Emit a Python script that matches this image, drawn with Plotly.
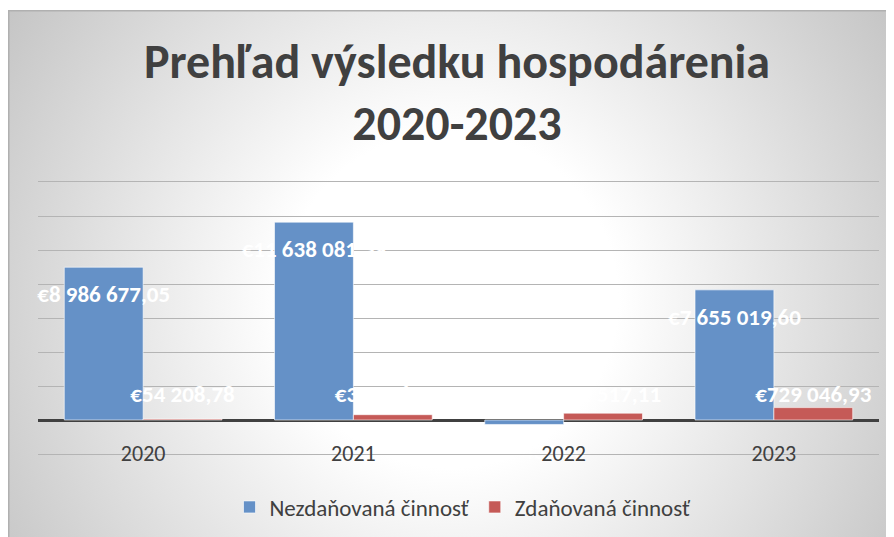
import base64
import plotly.graph_objects as go

# ---- data ----
years = ["2020", "2021", "2022", "2023"]
nezdanovana = [8986677.05, 11638081.39, -262430.00, 7655019.60]   # Nezdaňovaná činnosť
zdanovana = [54208.78, 312460.00, 401517.11, 729046.93]           # Zdaňovaná činnosť
series_names = ["Nezdaňovaná činnosť", "Zdaňovaná činnosť"]
title_text = "Prehľad výsledku hospodárenia<br>2020-2023"

# ---- style ----
W, H = 894, 537
L, R, T, B = 30, 23, 174, 91
PW, PH = W - L - R, H - T - B
FONT = "Calibri, Carlito, Lato, sans-serif"
BLUE = "#6591c7"
RED = "#c55a57"
TXT = "#404040"
GRID = "#b4b4b4"
BARGAP = 0.25
Y_MIN, Y_MAX, Y_STEP = -2e6, 14e6, 2e6
UNITS_PER_PX = (Y_MAX - Y_MIN) / PH


def eur(v):
    s = f"{abs(v):,.2f}".replace(",", " ").replace(".", ",")
    return ("-" if v < 0 else "") + "€" + s


def px_x(px):  # figure pixel -> paper x
    return (px - L) / PW


def px_y(py):  # figure pixel (from top) -> paper y
    return (H - B - py) / PH


xs = list(range(len(years)))
half = (1 - BARGAP) / 4

# background: radial gradient chart area (svg data uri)
svg = f'''<svg xmlns="http://www.w3.org/2000/svg" width="{W}" height="{H}" viewBox="0 0 {W} {H}">
<defs><radialGradient id="g" gradientUnits="userSpaceOnUse" cx="442" cy="292" r="560">
<stop offset="0" stop-color="#ffffff"/><stop offset="0.3" stop-color="#ffffff"/>
<stop offset="1" stop-color="#c0c0c0"/></radialGradient></defs>
<rect x="0" y="0" width="{W}" height="{H}" fill="#ffffff"/>
<rect x="0.75" y="2.75" width="{W+20}" height="{H+20}" fill="url(#g)" stroke="#b0b0b0" stroke-width="1.5"/>
</svg>'''
bg_uri = "data:image/svg+xml;base64," + base64.b64encode(svg.encode("utf-8")).decode()

fig = go.Figure()
fig.add_trace(go.Bar(x=xs, y=nezdanovana, name=series_names[0], marker_color=BLUE,
                     marker_line=dict(color="rgba(255,255,255,0.6)", width=1)))
fig.add_trace(go.Bar(x=xs, y=zdanovana, name=series_names[1], marker_color=RED,
                     marker_line=dict(color="rgba(255,255,255,0.6)", width=1)))

# data labels (white, bold)
fig.add_trace(go.Scatter(
    x=[x - half for x in xs],
    y=[v - 29 * UNITS_PER_PX for v in nezdanovana],
    text=[eur(v) for v in nezdanovana], mode="text", textposition="middle center",
    textfont=dict(family=FONT, size=23, color="white", weight="bold"),
    showlegend=False, hoverinfo="skip", cliponaxis=False))
fig.add_trace(go.Scatter(
    x=[x + half for x in xs],
    y=[24 * UNITS_PER_PX for _ in zdanovana],
    text=[eur(v) for v in zdanovana], mode="text", textposition="middle center",
    textfont=dict(family=FONT, size=23, color="white", weight="bold"),
    showlegend=False, hoverinfo="skip", cliponaxis=False))

fig.update_layout(
    width=W, height=H, autosize=False,
    margin=dict(l=L, r=R, t=T, b=B),
    paper_bgcolor="white", plot_bgcolor="rgba(0,0,0,0)",
    barmode="group", bargap=BARGAP, bargroupgap=0,
    font=dict(family=FONT, color=TXT),
    legend=dict(orientation="h", x=px_x(455), xanchor="center",
                y=px_y(499), yanchor="middle", itemwidth=30,
                font=dict(family=FONT, size=23, color=TXT),
                bgcolor="rgba(0,0,0,0)", itemclick=False),
    annotations=[dict(text=title_text, xref="paper", yref="paper",
                      x=px_x(449), y=px_y(84), xanchor="center", yanchor="middle",
                      showarrow=False, align="center",
                      font=dict(family=FONT, size=48, color=TXT, weight="bold"))],
    images=[dict(source=bg_uri, xref="paper", yref="paper",
                 x=-L / PW, y=1 + T / PH, sizex=W / PW, sizey=H / PH,
                 xanchor="left", yanchor="top", sizing="stretch", layer="below")],
)
fig.update_xaxes(range=[-0.5, 3.5], tickvals=xs, ticktext=years, showgrid=False,
                 zeroline=False, ticks="", showline=True, mirror=True,
                 linecolor=GRID, linewidth=1, ticklabelstandoff=-20,
                 tickfont=dict(family=FONT, size=22, color=TXT))
fig.update_yaxes(range=[Y_MIN, Y_MAX], dtick=Y_STEP, tick0=0, showticklabels=False,
                 showgrid=True, gridcolor=GRID, gridwidth=1,
                 zeroline=True, zerolinecolor="#404040", zerolinewidth=3, ticks="")

fig.write_html("out.html")
